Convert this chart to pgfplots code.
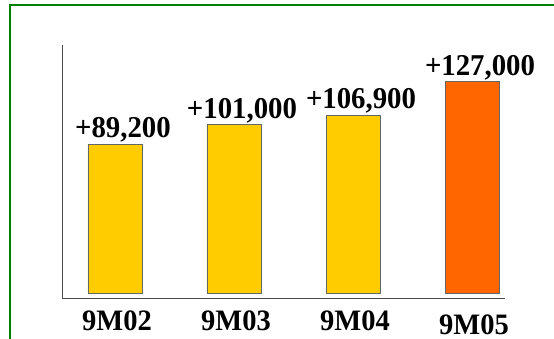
\documentclass[border=0pt]{standalone}
\usepackage{fontspec}
\setmainfont{Liberation Serif}
\usepackage{pgfplots}
\pgfplotsset{compat=1.18}
\definecolor{baryellow}{HTML}{FFCC00}
\definecolor{barorange}{HTML}{FF6600}
\definecolor{framegreen}{HTML}{008000}
\begin{document}
\begin{tikzpicture}
\useasboundingbox (0,0) rectangle (554pt,339pt);
\draw[framegreen, line width=2pt] (10pt,0) -- (10pt,333.5pt) -- (554pt,333.5pt);
\begin{axis}[
  at={(62pt,41pt)}, anchor=south west,
  scale only axis, width=443pt, height=253pt,
  axis x line=bottom, axis y line=left,
  axis line style={-, draw=black!70, line width=0.8pt},
  xmin=-0.445, xmax=3.277, ymin=-3000, ymax=149000,
  ytick=\empty,
  xtick={0,1,2,3},
  xticklabels={9M02,9M03,9M04,\raisebox{-3pt}[\height][0pt]{9M05}},
  major tick length=0pt,
  xticklabel style={font=\fontsize{28.5}{30}\selectfont\bfseries, inner sep=0pt, yshift=-13pt, xshift=2pt, yscale=1.04},
  ybar, bar width=54pt, bar shift=0pt,
  nodes near coords={+\pgfmathprintnumber{\pgfplotspointmeta}},
  /pgf/number format/.cd, fixed, precision=0, 1000 sep={,}, assume math mode=true,
  /pgfplots/.cd,
  every node near coord/.append style={font=\fontsize{28.8}{30}\selectfont\bfseries, inner sep=0pt, yshift=1.5pt, xshift=8pt, text=black, yscale=1.05},
  clip=false,
]
\addplot[fill=baryellow, draw=black!60, line width=0.8pt] coordinates {(0,89200) (1,101000) (2,106900)};
\addplot[fill=barorange, draw=black!60, line width=0.8pt] coordinates {(3,127000)};
\end{axis}
\end{tikzpicture}
\end{document}
